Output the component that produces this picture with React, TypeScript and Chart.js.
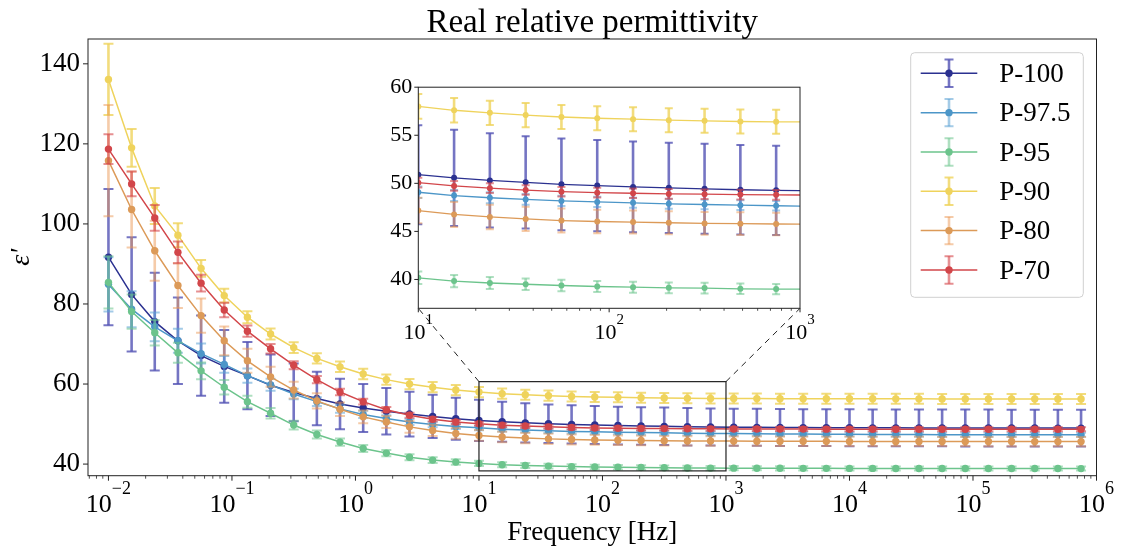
import React, { useEffect, useRef } from 'react';
import { Chart, registerables } from 'chart.js';

Chart.register(...registerables);

const W = 1121;
const H = 547;
const SERIF = "'Liberation Serif', 'Times New Roman', 'DejaVu Serif', serif";
const TITLE = 'Real relative permittivity';

// Frequencies [Hz]
const FREQ = [
  0.01, 0.0154, 0.02371, 0.03652, 0.05623, 0.0866, 0.1334, 0.2054, 0.3162, 0.487,
  0.7499, 1.155, 1.778, 2.738, 4.217, 6.494, 10, 15.4, 23.71, 36.52,
  56.23, 86.6, 133.4, 205.4, 316.2, 487, 749.9, 1155, 1778, 2738,
  4217, 6494, 10000, 15399, 23714, 36517, 56234, 86596, 133352, 205353,
  316228, 486968, 749894,
];

const P100 = [
  91.7, 82.4, 75.6, 70.8, 67.1, 64.4, 62.1, 59.7, 57.9, 56.4,
  55.0, 54.0, 53.2, 52.5, 51.9, 51.35, 50.9, 50.57, 50.3, 50.1,
  49.9, 49.77, 49.63, 49.53, 49.43, 49.33, 49.27, 49.22, 49.18, 49.15,
  49.12, 49.1, 49.08, 49.06, 49.05, 49.04, 49.03, 49.02, 49.01, 49.0,
  49.0, 48.99, 48.99,
];
const P100_ERR = [
  17.0, 14.3, 12.2, 10.8, 10.0, 9.1, 8.4, 7.7, 7.2, 6.7,
  6.3, 6.0, 5.8, 5.6, 5.4, 5.25, 5.15, 5.0, 4.9, 4.8,
  4.77, 4.75, 4.72, 4.7, 4.68, 4.66, 4.64, 4.63, 4.62, 4.62,
  4.61, 4.61, 4.6, 4.6, 4.6, 4.6, 4.6, 4.6, 4.6, 4.6,
  4.6, 4.6, 4.6,
];

const P97 = [
  84.9, 78.7, 74.3, 70.8, 67.6, 64.9, 62.1, 59.8, 57.5, 55.6,
  53.8, 52.4, 51.4, 50.5, 49.9, 49.4, 49.07, 48.73, 48.5, 48.33,
  48.17, 48.07, 47.97, 47.87, 47.8, 47.73, 47.67, 47.62, 47.58, 47.54,
  47.5, 47.47, 47.44, 47.42, 47.4, 47.38, 47.36, 47.35, 47.34, 47.33,
  47.32, 47.31, 47.3,
];
const P97_ERR = [
  6.8, 4.5, 3.6, 3.0, 2.5, 2.1, 1.8, 1.5, 1.3, 1.1,
  1.0, 0.9, 0.8, 0.75, 0.7, 0.65, 0.6, 0.58, 0.56, 0.55,
  0.54, 0.53, 0.52, 0.51, 0.5, 0.5, 0.5, 0.5, 0.5, 0.5,
  0.5, 0.5, 0.5, 0.5, 0.5, 0.5, 0.5, 0.5, 0.5, 0.5,
  0.5, 0.5, 0.5,
];

const P95 = [
  85.4, 78.1, 72.8, 67.8, 63.3, 59.2, 55.6, 52.7, 49.75, 47.4,
  45.5, 43.9, 42.75, 41.7, 41.0, 40.5, 40.17, 39.83, 39.63, 39.5,
  39.37, 39.27, 39.2, 39.13, 39.1, 39.03, 39.0, 38.98, 38.96, 38.95,
  38.94, 38.93, 38.92, 38.92, 38.91, 38.91, 38.9, 38.9, 38.9, 38.89,
  38.89, 38.89, 38.88,
];
const P95_ERR = [
  6.5, 4.3, 3.2, 2.5, 2.1, 1.8, 1.5, 1.3, 1.1, 1.0,
  0.9, 0.85, 0.8, 0.75, 0.7, 0.68, 0.65, 0.63, 0.62, 0.6,
  0.6, 0.58, 0.57, 0.56, 0.55, 0.55, 0.54, 0.53, 0.52, 0.52,
  0.51, 0.51, 0.5, 0.5, 0.5, 0.5, 0.5, 0.5, 0.5, 0.5,
  0.5, 0.5, 0.5,
];

const P90 = [
  136.1, 119.0, 104.5, 97.2, 88.9, 82.1, 76.7, 72.5, 69.1, 66.4,
  64.3, 62.5, 61.1, 60.0, 59.2, 58.5, 58.0, 57.6, 57.33, 57.1,
  56.9, 56.77, 56.67, 56.57, 56.5, 56.43, 56.4, 56.38, 56.36, 56.35,
  56.34, 56.33, 56.32, 56.31, 56.3, 56.3, 56.29, 56.29, 56.28, 56.28,
  56.27, 56.27, 56.26,
];
const P90_ERR = [
  8.9, 4.7, 4.5, 3.0, 2.1, 1.7, 1.5, 1.4, 1.35, 1.3,
  1.3, 1.3, 1.3, 1.28, 1.28, 1.28, 1.28, 1.27, 1.27, 1.26,
  1.26, 1.26, 1.25, 1.25, 1.25, 1.25, 1.25, 1.25, 1.25, 1.25,
  1.25, 1.25, 1.25, 1.25, 1.25, 1.25, 1.25, 1.25, 1.25, 1.25,
  1.25, 1.25, 1.25,
];

const P80 = [
  115.8, 103.6, 93.3, 84.6, 77.1, 70.8, 65.8, 61.8, 58.5, 55.8,
  53.7, 51.8, 50.5, 49.3, 48.4, 47.65, 47.17, 46.77, 46.5, 46.3,
  46.13, 46.03, 45.97, 45.9, 45.83, 45.8, 45.77, 45.74, 45.72, 45.7,
  45.69, 45.68, 45.67, 45.66, 45.65, 45.65, 45.64, 45.64, 45.63, 45.63,
  45.62, 45.62, 45.62,
];
const P80_ERR = [
  13.9, 9.5, 7.5, 5.6, 4.3, 3.6, 3.0, 2.5, 2.1, 1.9,
  1.7, 1.6, 1.5, 1.45, 1.4, 1.35, 1.33, 1.3, 1.28, 1.26,
  1.24, 1.22, 1.2, 1.2, 1.18, 1.18, 1.16, 1.16, 1.15, 1.15,
  1.15, 1.15, 1.15, 1.15, 1.15, 1.15, 1.15, 1.15, 1.15, 1.15,
  1.15, 1.15, 1.15,
];

const P70 = [
  118.7, 110.0, 101.5, 92.9, 85.2, 78.5, 73.2, 68.8, 64.7, 61.1,
  58.0, 55.6, 53.6, 52.2, 51.2, 50.5, 50.07, 49.73, 49.5, 49.3,
  49.13, 49.03, 48.97, 48.9, 48.87, 48.83, 48.8, 48.78, 48.76, 48.75,
  48.74, 48.73, 48.72, 48.72, 48.71, 48.71, 48.7, 48.7, 48.7, 48.69,
  48.69, 48.69, 48.68,
];
const P70_ERR = [
  3.7, 3.1, 3.2, 2.7, 2.1, 1.8, 1.4, 1.2, 1.0, 0.9,
  0.8, 0.7, 0.65, 0.6, 0.55, 0.52, 0.5, 0.5, 0.5, 0.5,
  0.5, 0.5, 0.5, 0.5, 0.5, 0.5, 0.5, 0.5, 0.5, 0.5,
  0.5, 0.5, 0.5, 0.5, 0.5, 0.5, 0.5, 0.5, 0.5, 0.5,
  0.5, 0.5, 0.5,
];

const LABELS = ['P-100', 'P-97.5', 'P-95', 'P-90', 'P-80', 'P-70'];
const VALUES = [P100, P97, P95, P90, P80, P70];
const ERRORS = [P100_ERR, P97_ERR, P95_ERR, P90_ERR, P80_ERR, P70_ERR];
const COLORS = ['#2b3190', '#4c96c8', '#6cc48c', '#efd35c', '#dc9a58', '#d2464a'];
const ERR_COLORS = [
  'rgba(82,82,180,0.8)',
  'rgba(90,160,212,0.55)',
  'rgba(108,196,140,0.55)',
  'rgba(239,211,92,0.8)',
  'rgba(236,152,84,0.5)',
  'rgba(214,70,74,0.6)',
];

const MAIN_X_DECADES = [0.01, 0.1, 1, 10, 100, 1000, 10000, 100000, 1000000];
const MAIN_X_EXP = ['\u22122', '\u22121', '0', '1', '2', '3', '4', '5', '6'];
const MAIN_Y_TICKS = [40, 60, 80, 100, 120, 140];
const INSET_X_DECADES = [10, 100, 1000];
const INSET_X_EXP = ['1', '2', '3'];
const INSET_Y_TICKS = [40, 45, 50, 55, 60];

const MAIN_X_MIN = 0.00683;
const MAIN_X_MAX = 1000000;
const MAIN_Y_MIN = 37.1;
const MAIN_Y_MAX = 146.2;
const INSET_X_MIN = 10;
const INSET_X_MAX = 1000;
const INSET_Y_MIN = 37;
const INSET_Y_MAX = 60;
// zoom-region rectangle drawn on the main axes (data units)
const BOX_X = [10, 1000];
const BOX_Y = [38.3, 60.6];

// inset canvas placement
const INSET = { left: 358, top: 68, width: 480, height: 280, yw: 60.3, pt: 10.3, pr: 38, xh: 39.7 };

function minorTicks(min: number, max: number): number[] {
  const out: number[] = [];
  for (let e = -4; e <= 7; e++) {
    for (let m = 2; m <= 9; m++) {
      const v = m * Math.pow(10, e);
      if (v >= min && v <= max) out.push(v);
    }
  }
  return out;
}

function makeDatasets(radius: number, lw: number, clip?: number) {
  return LABELS.map((label, i) => ({
    label,
    data: FREQ.map((f, k) => ({ x: f, y: VALUES[i][k] })),
    errors: ERRORS[i],
    errColor: ERR_COLORS[i],
    borderColor: COLORS[i],
    backgroundColor: COLORS[i],
    pointBackgroundColor: COLORS[i],
    pointBorderColor: COLORS[i],
    pointBorderWidth: 0,
    pointRadius: radius,
    pointHoverRadius: radius,
    borderWidth: lw,
    tension: 0,
    fill: false,
    order: LABELS.length - i,
    ...(clip !== undefined ? { clip } : {}),
  }));
}

const errorBarPlugin = {
  id: 'errbars',
  beforeDatasetDraw(chart: any, args: any, opts: any) {
    const ds: any = chart.data.datasets[args.index];
    const err: number[] = ds.errors;
    if (!err) return;
    const xs = chart.scales.x;
    const ys = chart.scales.y;
    const ctx = chart.ctx;
    const a = chart.chartArea;
    ctx.save();
    ctx.beginPath();
    ctx.rect(a.left, a.top, a.right - a.left, a.bottom - a.top);
    ctx.clip();
    ctx.strokeStyle = ds.errColor;
    ds.data.forEach((p: any, i: number) => {
      const x = xs.getPixelForValue(p.x);
      const y1 = ys.getPixelForValue(p.y - err[i]);
      const y2 = ys.getPixelForValue(p.y + err[i]);
      ctx.lineWidth = opts.lw;
      ctx.beginPath();
      ctx.moveTo(x, y1);
      ctx.lineTo(x, y2);
      ctx.stroke();
      ctx.lineWidth = opts.capLw;
      ctx.beginPath();
      ctx.moveTo(x - opts.cap, y1);
      ctx.lineTo(x + opts.cap, y1);
      ctx.moveTo(x - opts.cap, y2);
      ctx.lineTo(x + opts.cap, y2);
      ctx.stroke();
    });
    ctx.restore();
  },
};

function drawAxesDecor(chart: any, cfg: any) {
  const { ctx, chartArea: a } = chart;
  const xs = chart.scales.x;
  const ys = chart.scales.y;
  ctx.save();
  ctx.strokeStyle = '#222';
  ctx.lineWidth = 0.8;
  cfg.xMinor.forEach((v: number) => {
    const px = xs.getPixelForValue(v);
    ctx.beginPath();
    ctx.moveTo(px, a.bottom);
    ctx.lineTo(px, a.bottom + cfg.minorLen);
    ctx.stroke();
  });
  ctx.lineWidth = 1;
  cfg.xMajor.forEach((v: number) => {
    const px = xs.getPixelForValue(v);
    ctx.beginPath();
    ctx.moveTo(px, a.bottom);
    ctx.lineTo(px, a.bottom + cfg.majorLen);
    ctx.stroke();
  });
  cfg.yMajor.forEach((v: number) => {
    const py = ys.getPixelForValue(v);
    ctx.beginPath();
    ctx.moveTo(a.left - cfg.majorLen, py);
    ctx.lineTo(a.left, py);
    ctx.stroke();
  });
  ctx.lineWidth = 1;
  ctx.strokeRect(a.left, a.top, a.right - a.left, a.bottom - a.top);
  ctx.fillStyle = '#000';
  ctx.textBaseline = 'alphabetic';
  ctx.textAlign = 'left';
  cfg.xMajor.forEach((v: number, i: number) => {
    const px = xs.getPixelForValue(v);
    ctx.font = `${cfg.baseSize}px ${SERIF}`;
    const w1 = ctx.measureText('10').width;
    ctx.font = `${cfg.expSize}px ${SERIF}`;
    const w2 = ctx.measureText(cfg.exps[i]).width;
    const x0 = px - (w1 + w2) / 2;
    ctx.font = `${cfg.baseSize}px ${SERIF}`;
    ctx.fillText('10', x0, a.bottom + cfg.baseOff);
    ctx.font = `${cfg.expSize}px ${SERIF}`;
    ctx.fillText(cfg.exps[i], x0 + w1, a.bottom + cfg.expOff);
  });
  ctx.restore();
}

function drawLegend(ctx: CanvasRenderingContext2D) {
  const x0 = 910.7, y0 = 52.7, w = 172.6, h = 244.6, r = 4;
  ctx.save();
  ctx.beginPath();
  ctx.moveTo(x0 + r, y0);
  ctx.lineTo(x0 + w - r, y0);
  ctx.arcTo(x0 + w, y0, x0 + w, y0 + r, r);
  ctx.lineTo(x0 + w, y0 + h - r);
  ctx.arcTo(x0 + w, y0 + h, x0 + w - r, y0 + h, r);
  ctx.lineTo(x0 + r, y0 + h);
  ctx.arcTo(x0, y0 + h, x0, y0 + h - r, r);
  ctx.lineTo(x0, y0 + r);
  ctx.arcTo(x0, y0, x0 + r, y0, r);
  ctx.closePath();
  ctx.fillStyle = 'rgba(255,255,255,0.85)';
  ctx.fill();
  ctx.strokeStyle = '#d0d0d0';
  ctx.lineWidth = 1;
  ctx.stroke();
  LABELS.forEach((label, i) => {
    const cy = 73.3 + i * 39.33;
    const cx = 949;
    ctx.strokeStyle = COLORS[i];
    ctx.lineWidth = 1.5;
    ctx.beginPath();
    ctx.moveTo(920.7, cy);
    ctx.lineTo(977.3, cy);
    ctx.stroke();
    ctx.strokeStyle = ERR_COLORS[i];
    ctx.lineWidth = 2.6;
    ctx.beginPath();
    ctx.moveTo(cx, cy - 13.7);
    ctx.lineTo(cx, cy + 13.7);
    ctx.stroke();
    ctx.lineWidth = 2;
    ctx.beginPath();
    ctx.moveTo(cx - 4.5, cy - 13.7);
    ctx.lineTo(cx + 4.5, cy - 13.7);
    ctx.moveTo(cx - 4.5, cy + 13.7);
    ctx.lineTo(cx + 4.5, cy + 13.7);
    ctx.stroke();
    ctx.fillStyle = COLORS[i];
    ctx.beginPath();
    ctx.arc(cx, cy, 3.7, 0, Math.PI * 2);
    ctx.fill();
    ctx.fillStyle = '#000';
    ctx.font = `27px ${SERIF}`;
    ctx.textBaseline = 'middle';
    ctx.textAlign = 'left';
    ctx.fillText(label, 999.3, cy + 1.5);
  });
  ctx.restore();
}

const mainDecor = {
  id: 'mainDecor',
  afterDraw(chart: any) {
    const ctx = chart.ctx;
    const a = chart.chartArea;
    // title centred over the axes
    ctx.save();
    ctx.fillStyle = '#000';
    ctx.font = `33px ${SERIF}`;
    ctx.textAlign = 'center';
    ctx.textBaseline = 'alphabetic';
    ctx.fillText(TITLE, (a.left + a.right) / 2, 32);
    ctx.restore();

    drawAxesDecor(chart, {
      xMajor: MAIN_X_DECADES,
      xMinor: minorTicks(MAIN_X_MIN, MAIN_X_MAX),
      yMajor: MAIN_Y_TICKS,
      exps: MAIN_X_EXP,
      majorLen: 5,
      minorLen: 3,
      baseSize: 26,
      expSize: 18,
      baseOff: 36.3,
      expOff: 18,
    });
    const xs = chart.scales.x;
    const ys = chart.scales.y;
    const bx1 = xs.getPixelForValue(BOX_X[0]);
    const bx2 = xs.getPixelForValue(BOX_X[1]);
    const by1 = ys.getPixelForValue(BOX_Y[1]);
    const by2 = ys.getPixelForValue(BOX_Y[0]);
    ctx.save();
    ctx.strokeStyle = '#222';
    ctx.lineWidth = 1.2;
    ctx.strokeRect(bx1, by1, bx2 - bx1, by2 - by1);
    const ia = {
      left: INSET.left + INSET.yw,
      right: INSET.left + INSET.width - INSET.pr,
      bottom: INSET.top + INSET.height - INSET.xh,
    };
    ctx.setLineDash([6, 5]);
    ctx.lineWidth = 1;
    ctx.beginPath();
    ctx.moveTo(bx1, by1);
    ctx.lineTo(ia.left, ia.bottom);
    ctx.moveTo(bx2, by1);
    ctx.lineTo(ia.right, ia.bottom);
    ctx.stroke();
    ctx.restore();
    drawLegend(ctx);
  },
};

const insetDecor = {
  id: 'insetDecor',
  beforeDraw(chart: any) {
    const { ctx, chartArea: a } = chart;
    ctx.save();
    ctx.fillStyle = '#ffffff';
    ctx.fillRect(a.left, a.top, a.right - a.left, a.bottom - a.top);
    ctx.restore();
  },
  afterDraw(chart: any) {
    drawAxesDecor(chart, {
      xMajor: INSET_X_DECADES,
      xMinor: minorTicks(INSET_X_MIN, INSET_X_MAX),
      yMajor: INSET_Y_TICKS,
      exps: INSET_X_EXP,
      majorLen: 4,
      minorLen: 2.5,
      baseSize: 22,
      expSize: 15,
      baseOff: 30.5,
      expOff: 15.5,
    });
  },
};

function mainConfig(): any {
  return {
    type: 'line',
    data: { datasets: makeDatasets(3.7, 1.5) },
    plugins: [errorBarPlugin, mainDecor],
    options: {
      animation: false,
      responsive: false,
      events: [],
      layout: { padding: { top: 39, right: 24.5, bottom: 0, left: 0 } },
      plugins: {
        legend: { display: false },
        tooltip: { enabled: false },
        title: { display: false },
        errbars: { lw: 2.6, capLw: 2, cap: 5 },
      },
      scales: {
        x: {
          type: 'logarithmic',
          position: 'bottom',
          min: MAIN_X_MIN,
          max: MAIN_X_MAX,
          bounds: 'data',
          grid: { display: false, drawTicks: false },
          border: { display: false },
          ticks: { display: false },
          afterBuildTicks: (s: any) => {
            s.ticks = MAIN_X_DECADES.map((v) => ({ value: v }));
          },
          afterFit: (s: any) => {
            s.height = 71.3;
          },
          title: {
            display: true,
            text: 'Frequency [Hz]',
            color: '#000',
            font: { family: SERIF, size: 27, lineHeight: 1 },
            padding: { top: 0, bottom: 1 },
          },
        },
        y: {
          type: 'linear',
          position: 'left',
          min: MAIN_Y_MIN,
          max: MAIN_Y_MAX,
          bounds: 'data',
          grid: { display: false, drawTicks: false },
          border: { display: false },
          ticks: {
            color: '#000',
            padding: 8,
            font: { family: SERIF, size: 27 },
            autoSkip: false,
          },
          afterBuildTicks: (s: any) => {
            s.ticks = MAIN_Y_TICKS.map((v) => ({ value: v }));
          },
          afterFit: (s: any) => {
            s.width = 88;
          },
          title: {
            display: true,
            text: "\u03b5'",
            color: '#000',
            font: { family: SERIF, size: 28, style: 'italic', lineHeight: 1.2 },
            padding: { top: 5, bottom: 0 },
          },
        },
      },
    },
  };
}

function insetConfig(): any {
  return {
    type: 'line',
    data: { datasets: makeDatasets(3, 1.3, 0) },
    plugins: [insetDecor, errorBarPlugin],
    options: {
      animation: false,
      responsive: false,
      events: [],
      layout: { padding: { top: INSET.pt, right: INSET.pr, bottom: 0, left: 0 } },
      plugins: {
        legend: { display: false },
        tooltip: { enabled: false },
        title: { display: false },
        errbars: { lw: 2.6, capLw: 2, cap: 4 },
      },
      scales: {
        x: {
          type: 'logarithmic',
          position: 'bottom',
          min: INSET_X_MIN,
          max: INSET_X_MAX,
          bounds: 'data',
          grid: { display: false, drawTicks: false },
          border: { display: false },
          ticks: { display: false },
          afterBuildTicks: (s: any) => {
            s.ticks = INSET_X_DECADES.map((v) => ({ value: v }));
          },
          afterFit: (s: any) => {
            s.height = INSET.xh;
          },
        },
        y: {
          type: 'linear',
          position: 'left',
          min: INSET_Y_MIN,
          max: INSET_Y_MAX,
          bounds: 'data',
          grid: { display: false, drawTicks: false },
          border: { display: false },
          ticks: {
            color: '#000',
            padding: 6,
            font: { family: SERIF, size: 22 },
            autoSkip: false,
          },
          afterBuildTicks: (s: any) => {
            s.ticks = INSET_Y_TICKS.map((v) => ({ value: v }));
          },
          afterFit: (s: any) => {
            s.width = INSET.yw;
          },
        },
      },
    },
  };
}

export default function App() {
  const mainRef = useRef<HTMLCanvasElement>(null);
  const insetRef = useRef<HTMLCanvasElement>(null);

  useEffect(() => {
    const inset = new Chart(insetRef.current as HTMLCanvasElement, insetConfig());
    const main = new Chart(mainRef.current as HTMLCanvasElement, mainConfig());
    return () => {
      main.destroy();
      inset.destroy();
    };
  }, []);

  return (
    <div style={{ position: 'absolute', left: 0, top: 0, width: W, height: H, background: '#fff' }}>
      <canvas
        ref={mainRef}
        width={W}
        height={H}
        style={{ position: 'absolute', left: 0, top: 0, width: W, height: H }}
      />
      <canvas
        ref={insetRef}
        width={INSET.width}
        height={INSET.height}
        style={{
          position: 'absolute',
          left: INSET.left,
          top: INSET.top,
          width: INSET.width,
          height: INSET.height,
        }}
      />
    </div>
  );
}
